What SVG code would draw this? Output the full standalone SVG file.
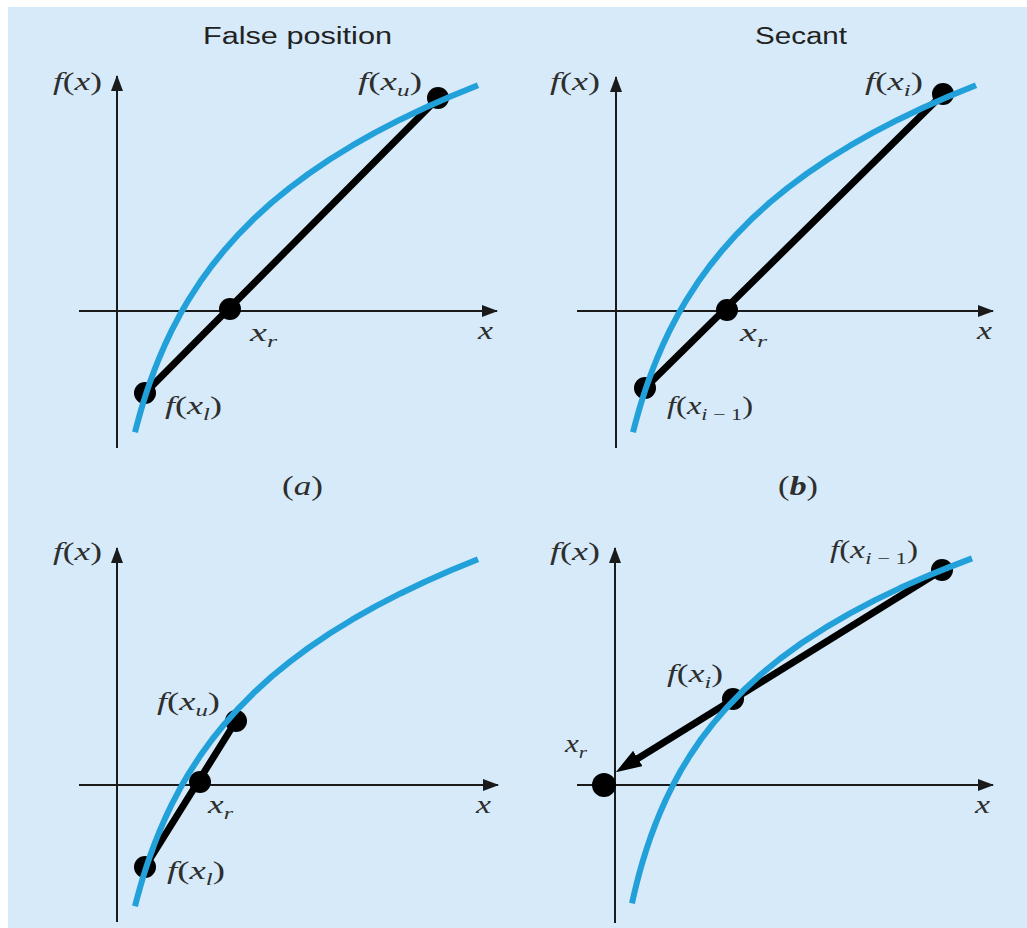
<svg xmlns="http://www.w3.org/2000/svg" width="1027" height="928" viewBox="0 0 1027 928">
<style>
.axis{stroke:#1a1a1a;stroke-width:2;fill:none}
.curve{stroke:#21a0da;stroke-width:6;fill:none;stroke-linejoin:round}
.chord{stroke:#000;stroke-width:7;stroke-linecap:round;fill:none}
.dot{fill:#000}
.lbl{font-family:"Liberation Serif","Times New Roman",serif;font-size:25px;fill:#2e2e2e}
.it{font-style:italic}
.sub{font-size:17px}
.title{font-family:"Liberation Sans",Arial,sans-serif;font-size:23px;fill:#222}
</style>
<defs>
<marker id="ax" markerUnits="userSpaceOnUse" markerWidth="16" markerHeight="12" refX="15" refY="6" orient="auto"><path d="M0,0 L16,6 L0,12 z" fill="#1a1a1a"/></marker>
<marker id="arr" markerUnits="userSpaceOnUse" markerWidth="26" markerHeight="18" refX="1" refY="9" orient="auto"><path d="M0,0 L26,9 L0,18 z" fill="#000"/></marker>
<path id="cv" d="M18,121.2 L20,113.4 L23,102.6 L26,92.4 L30,79.9 L33,71.1 L38,57.5 L42,47.5 L48,33.6 L55,18.8 L63,3.6 L72,-11.9 L83,-28.9 L95,-45.5 L108,-61.6 L122,-77.2 L138,-93.3 L155,-108.7 L173,-123.4 L192,-137.5 L213,-151.8 L235,-165.3 L258,-178.3 L283,-191.3 L308,-203.2 L334,-214.7 L361,-225.8"/>
</defs>
<rect x="0" y="0" width="1027" height="928" fill="#ffffff"/>
<rect x="8" y="7" width="1019" height="921" fill="#d6eaf9"/>

<text class="title" x="203" y="44" textLength="189" lengthAdjust="spacingAndGlyphs">False position</text>
<text class="title" x="755" y="44" textLength="92" lengthAdjust="spacingAndGlyphs">Secant</text>
<text class="lbl" x="282" y="495" style="font-size:27px" textLength="41" lengthAdjust="spacingAndGlyphs">(<tspan class="it">a</tspan>)</text>
<text class="lbl" x="778" y="495" style="font-size:27px" textLength="40" lengthAdjust="spacingAndGlyphs">(<tspan class="it" font-weight="bold">b</tspan>)</text>

<!-- Panel a top: false position -->
<g id="panel-a-top">
<line class="axis" x1="117" y1="448" x2="117" y2="76" marker-end="url(#ax)"/>
<line class="axis" x1="79" y1="311" x2="497" y2="311" marker-end="url(#ax)"/>
<g class="connectors">
<line class="chord" x1="145" y1="393" x2="438" y2="98"/>
</g>
<circle class="dot" cx="145" cy="393" r="11"/>
<circle class="dot" cx="230" cy="309" r="11"/>
<circle class="dot" cx="438" cy="98" r="11"/>
<use href="#cv" class="curve" transform="translate(117,311)"/>
<text class="lbl" x="53" y="90" textLength="49" lengthAdjust="spacingAndGlyphs"><tspan class="it">f</tspan>(<tspan class="it">x</tspan>)</text>
<text class="lbl" x="358" y="90" textLength="64" lengthAdjust="spacingAndGlyphs"><tspan class="it">f</tspan>(<tspan class="it">x</tspan><tspan class="it sub" dy="6">u</tspan><tspan dy="-6">)</tspan></text>
<text class="lbl" x="250" y="341" textLength="27" lengthAdjust="spacingAndGlyphs"><tspan class="it">x</tspan><tspan class="it sub" dy="6">r</tspan></text>
<text class="lbl it" x="478" y="339" textLength="15" lengthAdjust="spacingAndGlyphs">x</text>
<text class="lbl" x="165" y="414" textLength="57" lengthAdjust="spacingAndGlyphs"><tspan class="it">f</tspan>(<tspan class="it">x</tspan><tspan class="it sub" dy="6">l</tspan><tspan dy="-6">)</tspan></text>
</g>

<!-- Panel b top: secant -->
<g id="panel-b-top">
<line class="axis" x1="616" y1="448" x2="616" y2="77" marker-end="url(#ax)"/>
<line class="axis" x1="577" y1="311" x2="993" y2="311" marker-end="url(#ax)"/>
<g class="connectors">
<line class="chord" x1="645" y1="388" x2="943" y2="94"/>
</g>
<circle class="dot" cx="645" cy="388" r="11"/>
<circle class="dot" cx="727" cy="310" r="11"/>
<circle class="dot" cx="943" cy="94" r="11"/>
<use href="#cv" class="curve" transform="translate(615,311)"/>
<text class="lbl" x="550" y="90" textLength="50" lengthAdjust="spacingAndGlyphs"><tspan class="it">f</tspan>(<tspan class="it">x</tspan>)</text>
<text class="lbl" x="865" y="90" textLength="58" lengthAdjust="spacingAndGlyphs"><tspan class="it">f</tspan>(<tspan class="it">x</tspan><tspan class="it sub" dy="6">i</tspan><tspan dy="-6">)</tspan></text>
<text class="lbl" x="740" y="341" textLength="27" lengthAdjust="spacingAndGlyphs"><tspan class="it">x</tspan><tspan class="it sub" dy="6">r</tspan></text>
<text class="lbl it" x="977" y="339" textLength="15" lengthAdjust="spacingAndGlyphs">x</text>
<text class="lbl" x="667" y="414" textLength="86" lengthAdjust="spacingAndGlyphs"><tspan class="it">f</tspan>(<tspan class="it">x</tspan><tspan class="sub" dy="6"><tspan class="it">i</tspan> − 1</tspan><tspan dy="-6">)</tspan></text>
</g>

<!-- Panel a bottom -->
<g id="panel-a-bottom">
<line class="axis" x1="117" y1="922" x2="117" y2="548" marker-end="url(#ax)"/>
<line class="axis" x1="79" y1="785" x2="498" y2="785" marker-end="url(#ax)"/>
<g class="connectors">
<line class="chord" x1="145" y1="867" x2="236" y2="721"/>
</g>
<circle class="dot" cx="145" cy="867" r="11"/>
<circle class="dot" cx="200" cy="782" r="11"/>
<circle class="dot" cx="236" cy="721" r="11"/>
<use href="#cv" class="curve" transform="translate(117,785)"/>
<text class="lbl" x="53" y="560" textLength="49" lengthAdjust="spacingAndGlyphs"><tspan class="it">f</tspan>(<tspan class="it">x</tspan>)</text>
<text class="lbl" x="157" y="710" textLength="63" lengthAdjust="spacingAndGlyphs"><tspan class="it">f</tspan>(<tspan class="it">x</tspan><tspan class="it sub" dy="6">u</tspan><tspan dy="-6">)</tspan></text>
<text class="lbl" x="208" y="813" textLength="25" lengthAdjust="spacingAndGlyphs"><tspan class="it">x</tspan><tspan class="it sub" dy="6">r</tspan></text>
<text class="lbl it" x="476" y="813" textLength="15" lengthAdjust="spacingAndGlyphs">x</text>
<text class="lbl" x="167" y="879" textLength="58" lengthAdjust="spacingAndGlyphs"><tspan class="it">f</tspan>(<tspan class="it">x</tspan><tspan class="it sub" dy="6">l</tspan><tspan dy="-6">)</tspan></text>
</g>

<!-- Panel b bottom -->
<g id="panel-b-bottom">
<line class="axis" x1="615" y1="923" x2="615" y2="548" marker-end="url(#ax)"/>
<line class="axis" x1="577" y1="785" x2="993" y2="785" marker-end="url(#ax)"/>
<circle class="dot" cx="604" cy="785" r="12"/>
<g class="connectors">
<line class="chord" x1="942" y1="570" x2="637" y2="759" style="stroke-linecap:butt" marker-end="url(#arr)"/>
</g>
<circle class="dot" cx="942" cy="570" r="11"/>
<circle class="dot" cx="733" cy="699" r="11"/>
<path class="curve" transform="translate(615,785)" d="M17,118.3 L19,109.4 L22,97.1 L25,85.8 L28,75.4 L32,62.6 L36,50.9 L41,37.6 L46,25.4 L51,14.3 L58,0 L66,-14.7 L75,-29.5 L86,-45.7 L98,-61.4 L112,-77.7 L128,-94.2 L146,-110.7 L165,-126.2 L187,-142.2 L210,-157.1 L235,-171.7 L260,-184.9 L285,-196.9 L310,-208 L333,-217.4 L357,-226.6"/>
<text class="lbl" x="550" y="560" textLength="50" lengthAdjust="spacingAndGlyphs"><tspan class="it">f</tspan>(<tspan class="it">x</tspan>)</text>
<text class="lbl" x="830" y="558" textLength="88" lengthAdjust="spacingAndGlyphs"><tspan class="it">f</tspan>(<tspan class="it">x</tspan><tspan class="sub" dy="6"><tspan class="it">i</tspan> − 1</tspan><tspan dy="-6">)</tspan></text>
<text class="lbl" x="667" y="682" textLength="56" lengthAdjust="spacingAndGlyphs"><tspan class="it">f</tspan>(<tspan class="it">x</tspan><tspan class="it sub" dy="6">i</tspan><tspan dy="-6">)</tspan></text>
<text class="lbl" x="565" y="752" textLength="22" lengthAdjust="spacingAndGlyphs"><tspan class="it">x</tspan><tspan class="it sub" dy="6">r</tspan></text>
<text class="lbl it" x="975" y="813" textLength="15" lengthAdjust="spacingAndGlyphs">x</text>
</g>
</svg>
